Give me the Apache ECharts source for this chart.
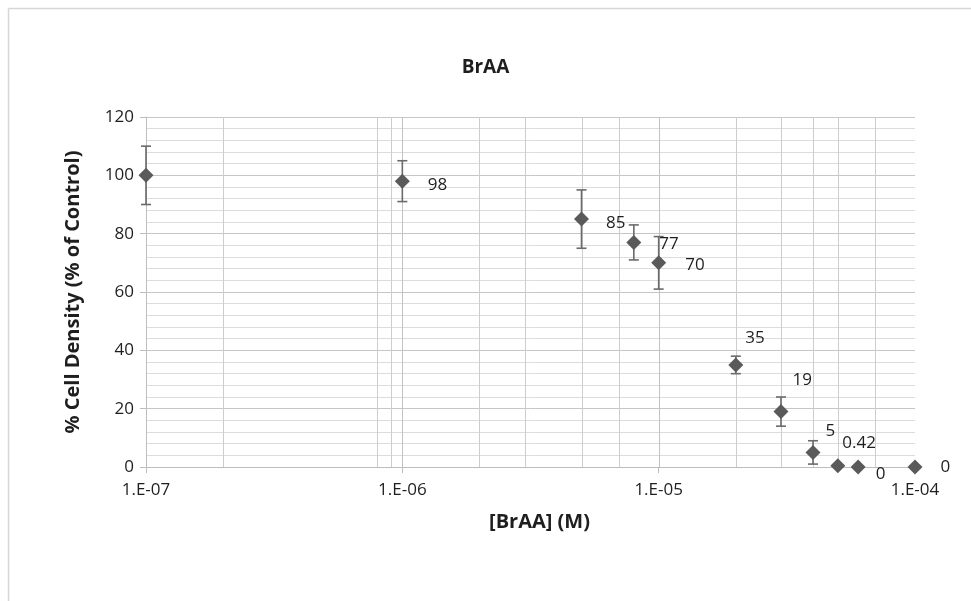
<!DOCTYPE html>
<html>
<head>
<meta charset="utf-8">
<title>BrAA</title>
<script src="https://cdn.jsdelivr.net/npm/echarts@6/dist/echarts.min.js"></script>
<style>
  html, body { margin: 0; padding: 0; background: #fff; }
  #chart { width: 971px; height: 601px; }
</style>
</head>
<body>
<div id="chart"></div>
<script>
// Concentration of BrAA (M)
const concentrations = [1e-7, 1e-6, 5e-6, 8e-6, 1e-5, 2e-5, 3e-5, 4e-5, 5e-5, 6e-5, 1e-4];
// % cell density relative to control
const cellDensity = [100, 98, 85, 77, 70, 35, 19, 5, 0.42, 0, 0];
// Symmetric error (+/-) for each point
const errors = [10, 7, 10, 6, 9, 3, 5, 4, 0, 0, 0];
// Printed value labels (null = no label)
const valueLabels = [null, '98', '85', '77', '70', '35', '19', '5', '0.42', '0', '0'];
// Vertical grid positions on the log axis
const majorGridX = [1e-6, 1e-5];
const minorGridX = [2e-7, 8e-7, 9e-7, 2e-6, 3e-6, 5e-6, 7e-6, 2e-5, 3e-5, 4e-5, 5e-5, 7e-5];

// Label placement offsets per point (layout only)
const labelOffsets = [
  [0, 0], [13, 4], [12, 4], [13, 2], [14, 2],
  [-3, -27], [-1, -31], [0, -21], [-8, -23], [5, 7], [13, 0]
];

const textColor = '#1e1e1e';
const fontFamily = '"Open Sans", "DejaVu Sans", sans-serif';

const pointData = concentrations.map((x, i) => ({
  value: [x, cellDensity[i]],
  label: valueLabels[i] == null ? { show: false } : {
    show: true,
    formatter: valueLabels[i],
    position: 'right',
    distance: 5,
    offset: labelOffsets[i],
    color: textColor
  }
}));

const errorData = concentrations
  .map((x, i) => [x, cellDensity[i] - errors[i], cellDensity[i] + errors[i], errors[i]])
  .filter(d => d[3] > 0);

const gridLineData = majorGridX.map(v => [v, 0, 1]).concat(minorGridX.map(v => [v, 0, 0]));

function formatExp(v) {
  const e = Math.round(Math.log10(v));
  return '1.E' + (e < 0 ? '-' : '+') + String(Math.abs(e)).padStart(2, '0');
}

const chart = echarts.init(document.getElementById('chart'), null, { renderer: 'canvas' });

chart.setOption({
  animation: false,
  backgroundColor: '#ffffff',
  textStyle: { fontFamily: fontFamily },
  title: {
    text: 'BrAA',
    left: 'center',
    top: 53,
    textStyle: { fontSize: 19, fontWeight: 'bold', color: '#1e1e1e', fontFamily: fontFamily }
  },
  graphic: [
    { type: 'line', shape: { x1: 8.5, y1: 8.5, x2: 971, y2: 8.5 }, style: { stroke: '#d6d6d6', lineWidth: 1.5 }, silent: true },
    { type: 'line', shape: { x1: 8.5, y1: 8.5, x2: 8.5, y2: 601 }, style: { stroke: '#d6d6d6', lineWidth: 1.5 }, silent: true }
  ],
  grid: { left: 146, right: 56, top: 117, bottom: 134 },
  xAxis: {
    type: 'log',
    logBase: 10,
    min: 1e-7,
    max: 1e-4,
    splitNumber: 3,
    name: '[BrAA] (M)',
    nameLocation: 'middle',
    nameGap: 45,
    nameTextStyle: { fontSize: 20, fontWeight: 'bold', color: textColor, padding: [0, 0, 0, 18] },
    axisLine: { show: true, lineStyle: { color: '#bdbdbd', width: 1 } },
    axisTick: { show: true, inside: false, length: 6, lineStyle: { color: '#bdbdbd' } },
    axisLabel: { fontSize: 17, fontWeight: 500, color: textColor, margin: 15, formatter: formatExp },
    splitLine: { show: false },
    minorTick: { show: false },
    minorSplitLine: { show: false }
  },
  yAxis: {
    type: 'value',
    min: 0,
    max: 120,
    interval: 20,
    name: '% Cell Density (% of Control)',
    nameLocation: 'middle',
    nameGap: 63,
    nameTextStyle: { fontSize: 20, fontWeight: 'bold', color: textColor },
    axisLine: { show: true, lineStyle: { color: '#bdbdbd', width: 1 } },
    axisTick: { show: true, inside: false, length: 6, lineStyle: { color: '#bdbdbd' } },
    axisLabel: { fontSize: 17, fontWeight: 500, color: textColor, margin: 12 },
    splitLine: { show: true, lineStyle: { color: '#c6c6c6', width: 1 } },
    minorTick: { show: false, splitNumber: 5 },
    minorSplitLine: { show: true, lineStyle: { color: '#dcdcdc', width: 1 } }
  },
  series: [
    {
      name: 'vgrid',
      type: 'custom',
      z: 1,
      silent: true,
      clip: true,
      data: gridLineData,
      renderItem: function (params, api) {
        const p = api.coord([api.value(0), 0]);
        const cs = params.coordSys;
        const x = Math.round(p[0]) + 0.5;
        return {
          type: 'line',
          shape: { x1: x, y1: cs.y, x2: x, y2: cs.y + cs.height },
          style: { stroke: api.value(2) ? '#c2c2c2' : '#cdcdcd', lineWidth: 1 }
        };
      }
    },
    {
      name: 'error',
      type: 'custom',
      z: 3,
      silent: true,
      data: errorData,
      renderItem: function (params, api) {
        const x = api.value(0);
        const top = api.coord([x, api.value(2)]);
        const bot = api.coord([x, api.value(1)]);
        const half = 5;
        const style = { stroke: '#6a6a6a', lineWidth: 1.6, fill: null };
        return {
          type: 'group',
          children: [
            { type: 'line', shape: { x1: top[0], y1: top[1], x2: bot[0], y2: bot[1] }, style: style },
            { type: 'line', shape: { x1: top[0] - half, y1: top[1], x2: top[0] + half, y2: top[1] }, style: style },
            { type: 'line', shape: { x1: bot[0] - half, y1: bot[1], x2: bot[0] + half, y2: bot[1] }, style: style }
          ]
        };
      }
    },
    {
      name: 'BrAA',
      type: 'scatter',
      z: 4,
      symbol: 'diamond',
      symbolSize: [15, 15],
      itemStyle: { color: '#5a5a5a', opacity: 1 },
      label: { fontSize: 17, fontWeight: 500, color: textColor, fontFamily: fontFamily },
      data: pointData
    }
  ]
});
</script>
</body>
</html>
